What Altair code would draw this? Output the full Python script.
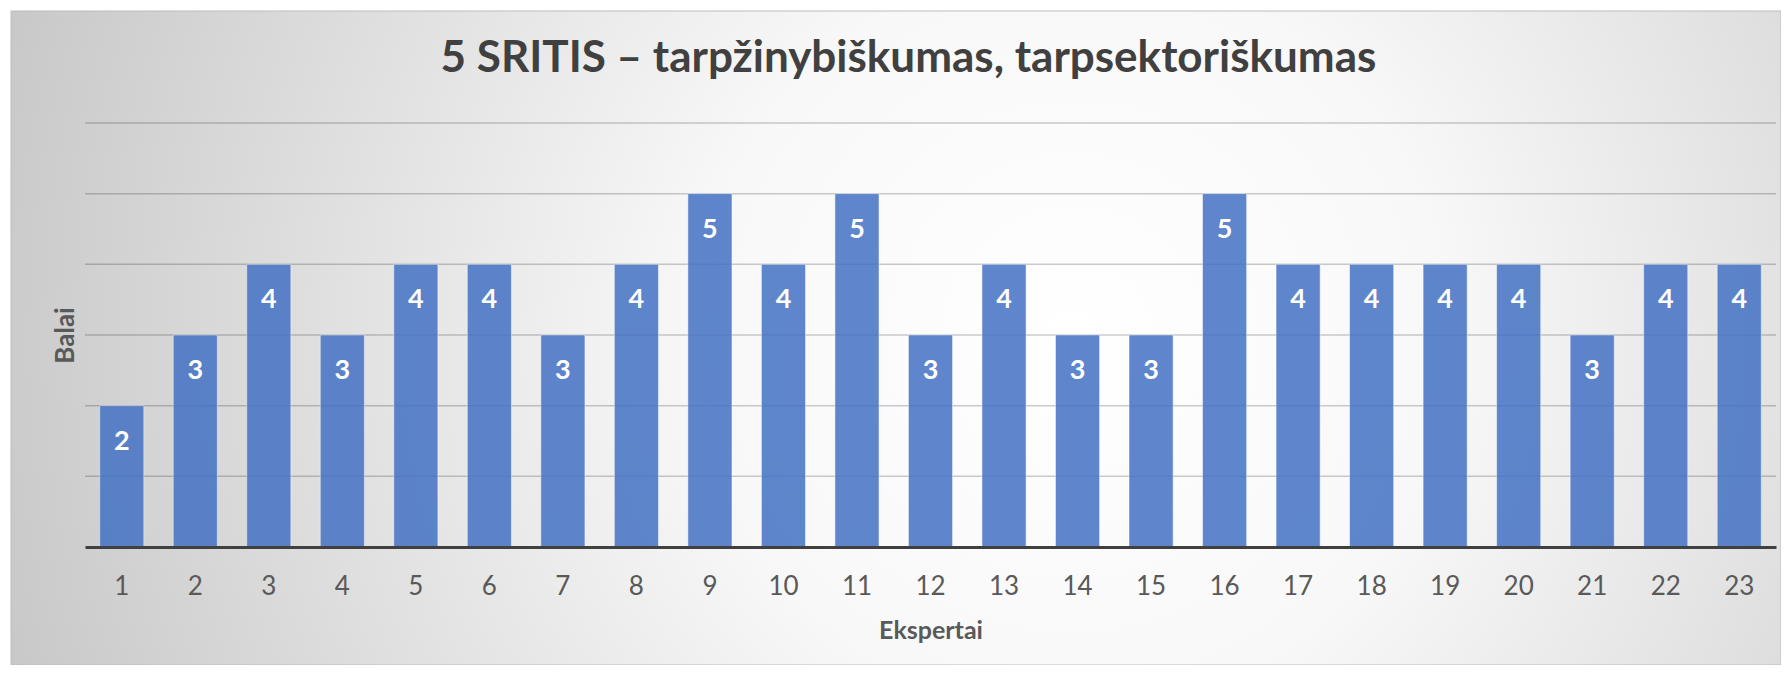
import altair as alt
import pandas as pd

experts = ["1", "2", "3", "4", "5", "6", "7", "8", "9", "10", "11", "12",
           "13", "14", "15", "16", "17", "18", "19", "20", "21", "22", "23"]
scores = [2, 3, 4, 3, 4, 4, 3, 4, 5, 4, 5, 3, 4, 3, 3, 5, 4, 4, 4, 4, 3, 4, 4]
grid_values = [1, 2, 3, 4, 5, 6]

title_text = "5 SRITIS – tarpžinybiškumas, tarpsektoriškumas"

df = pd.DataFrame({"Ekspertai": experts, "Balai": scores})
grid_df = pd.DataFrame({"Balai": grid_values})

W, H = 1691, 424
FONT = "Lato"

bg = alt.Chart(alt.Data(values=[{}])).mark_rect(
    fill={
        "gradient": "radial",
        "x1": 0.6, "y1": 0.5, "r1": 0,
        "x2": 0.6, "y2": 0.5, "r2": 0.7,
        "stops": [
            {"offset": 0, "color": "#ffffff"},
            {"offset": 0.3, "color": "#f8f8f8"},
            {"offset": 1, "color": "#c0c0c0"},
        ],
    },
    stroke="#bcbcbc",
    strokeWidth=1,
    clip=False,
).encode(
    x=alt.value(-74), x2=alt.value(W + 5),
    y=alt.value(-112), y2=alt.value(H + 118),
)

y_scale = alt.Scale(domain=[0, 6], nice=False)
y_axis = alt.Axis(
    title="Balai",
    labels=False,
    ticks=False,
    domain=False,
    grid=False,
    titleFont=FONT,
    titleFontSize=26,
    titleFontWeight="bold",
    titleColor="#595959",
    titleBaseline="alphabetic",
    titleAngle=270,
    titleX=-12,
    titleY=H / 2,
    zindex=1,
)

grid = alt.Chart(grid_df).mark_rule(
    color="#000000", opacity=0.2, strokeWidth=1.5
).encode(
    y=alt.Y("Balai:Q", scale=y_scale, axis=y_axis),
)

x_enc = alt.X(
    "Ekspertai:N",
    sort=experts,
    scale=alt.Scale(paddingInner=0.4, paddingOuter=0.2),
    axis=alt.Axis(
        title="Ekspertai",
        labelAngle=0,
        labelFont=FONT,
        labelFontSize=26,
        labelColor="#595959",
        labelBaseline="alphabetic",
        labelPadding=47,
        ticks=False,
        tickSize=0,
        domain=True,
        domainColor="#404040",
        domainWidth=3,
        grid=False,
        titleFont=FONT,
        titleFontSize=25,
        titleFontWeight="bold",
        titleColor="#595959",
        titleBaseline="alphabetic",
        titleY=91,
        titleX=W / 2,
        zindex=1,
    ),
)

bars = alt.Chart(df).mark_bar(
    color="#4472C4",
    opacity=0.85,
    stroke="#ffffff",
    strokeOpacity=0.5,
    strokeWidth=1,
).encode(x=x_enc, y=alt.Y("Balai:Q", scale=y_scale, axis=y_axis))

labels = alt.Chart(df).mark_text(
    color="#ffffff",
    font=FONT,
    fontSize=27,
    fontWeight="bold",
    baseline="alphabetic",
    align="center",
    dy=44,
).encode(
    x=alt.X("Ekspertai:N", sort=experts),
    y=alt.Y("Balai:Q"),
    text=alt.Text("Balai:Q"),
)

chart = alt.layer(bg, grid, bars, labels).properties(
    width=W,
    height=H,
    title=alt.TitleParams(
        text=title_text,
        font=FONT,
        fontSize=44,
        fontWeight="bold",
        color="#404040",
        anchor="middle",
        baseline="alphabetic",
        offset=-105,
        dx=-22,
    ),
    autosize=alt.AutoSizeParams(type="none"),
    padding={"left": 77, "top": 115, "right": 5, "bottom": 118},
).configure_view(stroke=None).configure(background="#ffffff")

chart.save("out.html", embed_options={"renderer": "svg", "actions": False})
